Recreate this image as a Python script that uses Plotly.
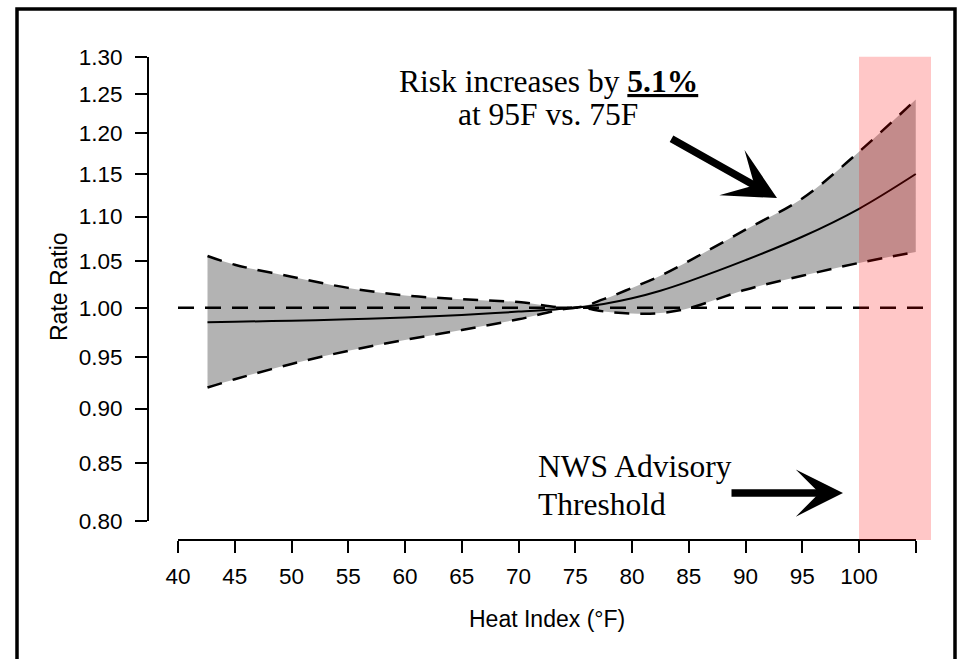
import math
import plotly.graph_objects as go

# ---------------- data ----------------
heat_index = [42.6, 45, 50, 55, 60, 65, 70, 75, 77.5, 80, 82.5, 85, 90, 95, 100, 105]
rate_ratio = [0.985, 0.9855, 0.9866, 0.988, 0.990, 0.9925, 0.996, 1.000, 1.004, 1.010,
              1.018, 1.028, 1.051, 1.077, 1.109, 1.150]
upper_ci = [1.0556, 1.046, 1.033, 1.021, 1.013, 1.009, 1.006, 1.000, 1.009, 1.021,
            1.034, 1.050, 1.085, 1.121, 1.177, 1.243]
lower_ci = [0.920, 0.928, 0.943, 0.956, 0.967, 0.977, 0.988, 1.000, 0.9962, 0.994,
            0.9945, 0.9995, 1.019, 1.034, 1.048, 1.060]

x_ticks = [40, 45, 50, 55, 60, 65, 70, 75, 80, 85, 90, 95, 100, 105]
x_tick_labels = ["40", "45", "50", "55", "60", "65", "70", "75", "80", "85", "90", "95", "100", ""]
y_ticks = [0.80, 0.85, 0.90, 0.95, 1.00, 1.05, 1.10, 1.15, 1.20, 1.25, 1.30]
y_tick_labels = ["0.80", "0.85", "0.90", "0.95", "1.00", "1.05", "1.10", "1.15", "1.20", "1.25", "1.30"]

reference_rr = 1.0
nws_threshold = 100

# ---------------- geometry (pixels of a 959x659 page) ----------------
W, H = 959, 659

px_per_5 = 56.75
x_left_px, x_right_px = 148, 931          # full plotting region
x40_px = 178
def px_to_x(px):
    return 40 + (px - x40_px) / px_per_5 * 5

y_top_px, y_bot_px = 56.7, 540            # full plotting region
y130_px, y080_px = 56.7, 521.3
px_per_dec = (y080_px - y130_px) / (math.log10(1.3) - math.log10(0.8))
def px_to_logy(px):
    return math.log10(1.3) - (px - y130_px) / px_per_dec

def fx(px):
    return px / W
def fy(px):
    return 1 - px / H

x_range = [px_to_x(x_left_px), px_to_x(x_right_px)]
y_range = [px_to_logy(y_bot_px), px_to_logy(y_top_px)]

sans = "Liberation Sans, Arial, sans-serif"
serif = "Liberation Serif, Times New Roman, serif"
SANS_TICK = 22.5
SANS_TITLE = 23
SERIF = 31.5

fig = go.Figure()

# confidence band
fig.add_trace(go.Scatter(x=heat_index, y=upper_ci, mode="lines",
                         line=dict(color="black", width=2.5, dash="15px,11px", shape="spline"),
                         showlegend=False, hoverinfo="skip"))
fig.add_trace(go.Scatter(x=heat_index, y=lower_ci, mode="lines", fill="tonexty",
                         fillcolor="#b3b3b3",
                         line=dict(color="black", width=2.5, dash="15px,11px", shape="spline"),
                         showlegend=False, hoverinfo="skip"))
# reference line
fig.add_trace(go.Scatter(x=[x_ticks[0], x_range[1]], y=[reference_rr, reference_rr], mode="lines",
                         line=dict(color="black", width=2.5, dash="16px,11px"),
                         showlegend=False, hoverinfo="skip"))
# estimate
fig.add_trace(go.Scatter(x=heat_index, y=rate_ratio, mode="lines",
                         line=dict(color="black", width=2, shape="spline"),
                         showlegend=False, hoverinfo="skip"))
# dummy trace for the visible (R-style) axes
fig.add_trace(go.Scatter(x=[], y=[], xaxis="x2", yaxis="y2", showlegend=False))

def x_to_frac(v):
    return fx(x_left_px) + (v - x_range[0]) / (x_range[1] - x_range[0]) * (fx(x_right_px) - fx(x_left_px))

fig.update_layout(
    width=W, height=H, autosize=False, showlegend=False,
    margin=dict(l=0, r=0, t=0, b=0, pad=0, autoexpand=False),
    paper_bgcolor="white", plot_bgcolor="rgba(0,0,0,0)",
    xaxis=dict(domain=[fx(x_left_px), fx(x_right_px)], range=x_range, visible=False),
    yaxis=dict(domain=[fy(y_bot_px), fy(y_top_px)], range=y_range, type="log", visible=False),
    xaxis2=dict(domain=[x_to_frac(40), x_to_frac(105)], range=[40, 105],
                anchor="free", position=fy(y_bot_px), side="bottom", automargin=False,
                showline=True, linecolor="black", linewidth=2,
                ticks="outside", ticklen=12, tickwidth=2, tickcolor="black",
                tickvals=x_ticks, ticktext=x_tick_labels, showgrid=False, zeroline=False,
                tickfont=dict(family=sans, size=SANS_TICK, color="black"), ticklabelstandoff=4),
    yaxis2=dict(domain=[fy(y080_px), fy(y130_px)], range=[math.log10(0.8), math.log10(1.3)], type="log",
                anchor="free", position=fx(x_left_px), side="left", automargin=False,
                showline=True, linecolor="black", linewidth=2,
                ticks="outside", ticklen=12, tickwidth=2, tickcolor="black",
                tickvals=y_ticks, ticktext=y_tick_labels, showgrid=False, zeroline=False,
                tickfont=dict(family=sans, size=SANS_TICK, color="black"), ticklabelstandoff=8),
    shapes=[
        dict(type="rect", xref="x", yref="y domain", x0=nws_threshold, x1=x_range[1], y0=0, y1=1,
             fillcolor="rgba(255,0,0,0.22)", line=dict(width=0), layer="above"),
        dict(type="rect", xref="paper", yref="paper", x0=fx(17), x1=fx(955), y0=-0.02, y1=fy(9),
             line=dict(color="black", width=3.5), fillcolor="rgba(0,0,0,0)", layer="above"),
    ],
)

def label(text, xp, yp, font, xanchor="center", **kw):
    return dict(text=text, x=fx(xp), y=fy(yp), xref="paper", yref="paper",
                xanchor=xanchor, yanchor="middle", showarrow=False, font=font, **kw)

sans_title_font = dict(family=sans, size=SANS_TITLE, color="black")
serif_font = dict(family=serif, size=SERIF, color="black")

annotations = [
    label("Rate Ratio", 59, 287, sans_title_font, textangle=-90),
    label("Heat Index (°F)", 547, 619, sans_title_font),
    label('Risk increases by <b><span style="text-decoration:underline">5.1%</span></b>', 548, 82, serif_font),
    label("at 95F vs. 75F", 548, 114, serif_font),
    label("NWS Advisory", 536, 466, serif_font, xanchor="left"),
    label("Threshold", 536, 504, serif_font, xanchor="left"),
    # arrows
    dict(text="", x=fx(777), y=fy(198), xref="paper", yref="paper", showarrow=True,
         ax=670 - 777, ay=138 - 198, arrowhead=3, arrowwidth=7.5, arrowsize=1.15,
         arrowcolor="black", standoff=0, startstandoff=0),
    dict(text="", x=fx(843), y=fy(493), xref="paper", yref="paper", showarrow=True,
         ax=730 - 843, ay=0, arrowhead=3, arrowwidth=7.5, arrowsize=1.05,
         arrowcolor="black", standoff=0, startstandoff=0),
]
fig.update_layout(annotations=annotations)

fig.write_html("out.html", config={"displayModeBar": False},
               post_script="document.body.style.margin='0px';document.body.style.overflow='hidden';")
